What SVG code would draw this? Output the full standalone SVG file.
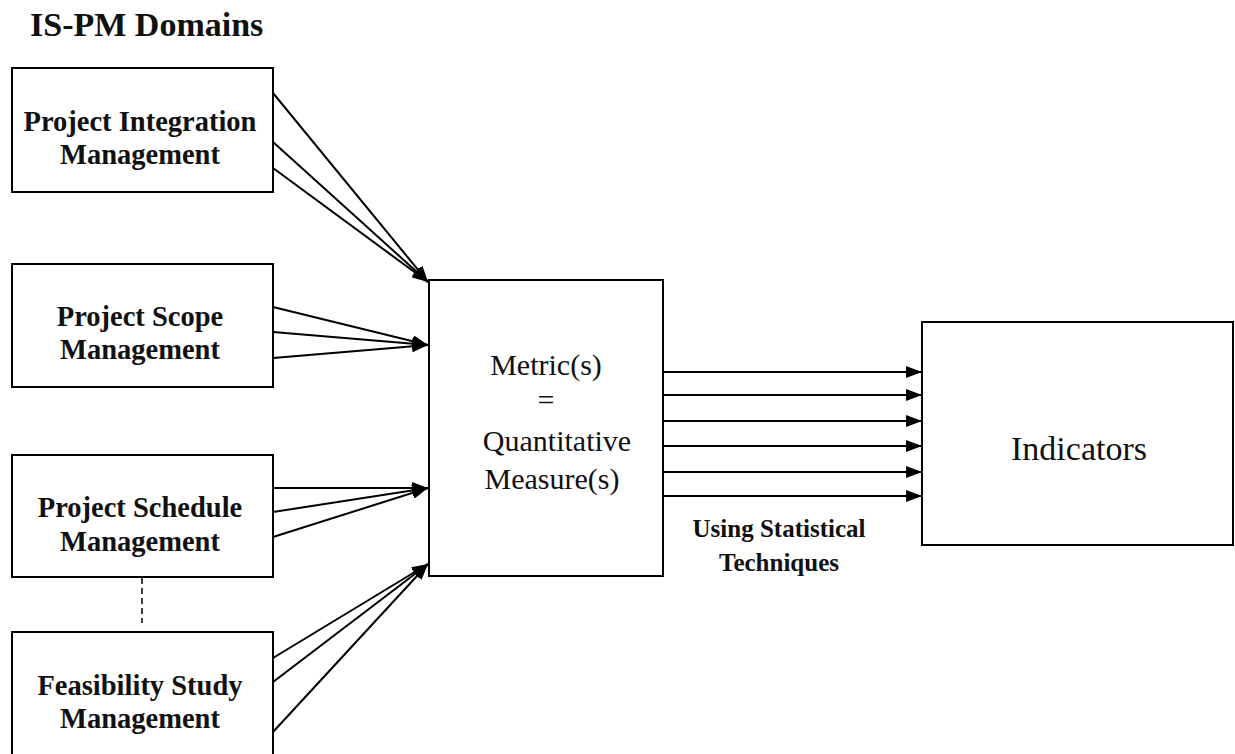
<svg xmlns="http://www.w3.org/2000/svg" width="1235" height="754" viewBox="0 0 1235 754">
<style>
.box{fill:#fff;stroke:#000;stroke-width:2}
.lbl{font-family:"Liberation Serif","Times New Roman",serif;font-weight:bold;font-size:28.5px;text-anchor:middle;fill:#111}
.sm{font-family:"Liberation Serif","Times New Roman",serif;font-weight:bold;font-size:25px;text-anchor:middle;fill:#111}
.big{font-family:"Liberation Serif","Times New Roman",serif;font-size:30px;text-anchor:middle;fill:#111}
.conn line{stroke:#000;stroke-width:2}
</style>
<defs>
<marker id="ah" markerWidth="16" markerHeight="12" refX="16" refY="6" orient="auto" markerUnits="userSpaceOnUse">
<path d="M0,0 L16,6 L0,12 z" fill="#000"/>
</marker>
</defs>
<rect width="1235" height="754" fill="#fff"/>
<text x="30" y="36" font-family="Liberation Serif,Times New Roman,serif" font-weight="bold" font-size="34" fill="#111">IS-PM Domains</text>
<g id="n1"><rect class="box" x="12" y="68" width="261" height="124"/>
<text class="lbl" x="140" y="131">Project Integration</text><text class="lbl" x="140" y="164">Management</text></g>
<g id="n2"><rect class="box" x="12" y="264" width="261" height="123"/>
<text class="lbl" x="140" y="326">Project Scope</text><text class="lbl" x="140" y="359">Management</text></g>
<g id="n3"><rect class="box" x="12" y="455" width="261" height="122"/>
<text class="lbl" x="140" y="517">Project Schedule</text><text class="lbl" x="140" y="551">Management</text></g>
<g id="n4"><rect class="box" x="12" y="632" width="261" height="130"/>
<text class="lbl" x="140" y="695">Feasibility Study</text><text class="lbl" x="140" y="728">Management</text></g>
<g id="metric"><rect class="box" x="429" y="280" width="234" height="296"/>
<text class="big" x="546" y="375">Metric(s)</text><text class="big" x="546" y="410">=</text>
<text class="big" x="557" y="451">Quantitative</text><text class="big" x="552" y="489">Measure(s)</text></g>
<g id="ind"><rect class="box" x="922" y="322" width="311" height="223"/>
<text class="big" x="1079" y="460" style="font-size:34px">Indicators</text></g>
<g id="conns" class="conn">
<line x1="273" y1="93" x2="428" y2="282" marker-end="url(#ah)"/>
<line x1="273" y1="142" x2="428" y2="282" marker-end="url(#ah)"/>
<line x1="273" y1="168" x2="428" y2="282" marker-end="url(#ah)"/>
<line x1="273" y1="307" x2="428" y2="345" marker-end="url(#ah)"/>
<line x1="273" y1="332" x2="428" y2="345" marker-end="url(#ah)"/>
<line x1="273" y1="358" x2="428" y2="345" marker-end="url(#ah)"/>
<line x1="273" y1="488" x2="428" y2="488" marker-end="url(#ah)"/>
<line x1="273" y1="512" x2="428" y2="488" marker-end="url(#ah)"/>
<line x1="273" y1="537" x2="428" y2="488" marker-end="url(#ah)"/>
<line x1="273" y1="658" x2="428" y2="564" marker-end="url(#ah)"/>
<line x1="273" y1="682" x2="428" y2="564" marker-end="url(#ah)"/>
<line x1="273" y1="732" x2="428" y2="564" marker-end="url(#ah)"/>
<line x1="663" y1="372" x2="922" y2="372" marker-end="url(#ah)"/>
<line x1="663" y1="395" x2="922" y2="395" marker-end="url(#ah)"/>
<line x1="663" y1="421" x2="922" y2="421" marker-end="url(#ah)"/>
<line x1="663" y1="446" x2="922" y2="446" marker-end="url(#ah)"/>
<line x1="663" y1="472" x2="922" y2="472" marker-end="url(#ah)"/>
<line x1="663" y1="496" x2="922" y2="496" marker-end="url(#ah)"/>
<line x1="142" y1="578" x2="142" y2="623" stroke-dasharray="6,4" style="stroke-width:1.5"/>
</g>
<text class="sm" x="779" y="537">Using Statistical</text>
<text class="sm" x="779" y="571">Techniques</text>
</svg>
